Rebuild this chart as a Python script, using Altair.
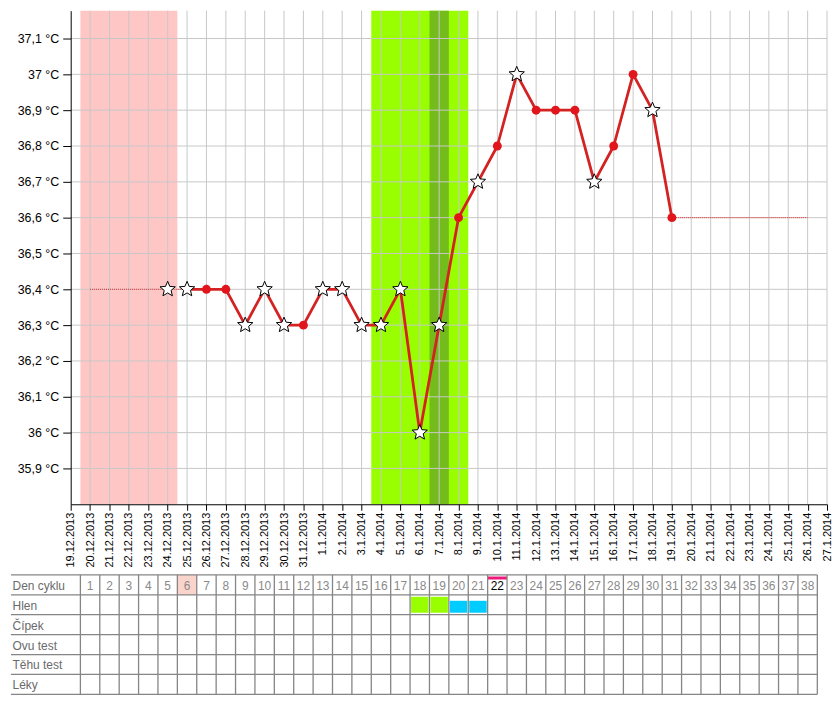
import altair as alt
import pandas as pd

# ---- data ----
DATE_LABELS = [
    "19.12.2013", "20.12.2013", "21.12.2013", "22.12.2013", "23.12.2013",
    "24.12.2013", "25.12.2013", "26.12.2013", "27.12.2013", "28.12.2013",
    "29.12.2013", "30.12.2013", "31.12.2013", "1.1.2014", "2.1.2014",
    "3.1.2014", "4.1.2014", "5.1.2014", "6.1.2014", "7.1.2014",
    "8.1.2014", "9.1.2014", "10.1.2014", "11.1.2014", "12.1.2014",
    "13.1.2014", "14.1.2014", "15.1.2014", "16.1.2014", "17.1.2014",
    "18.1.2014", "19.1.2014", "20.1.2014", "21.1.2014", "22.1.2014",
    "23.1.2014", "24.1.2014", "25.1.2014", "26.1.2014", "27.1.2014",
]
DAY_INDEX = list(range(len(DATE_LABELS)))

TEMP_TICKS = [35.9, 36.0, 36.1, 36.2, 36.3, 36.4, 36.5, 36.6, 36.7, 36.8, 36.9, 37.0, 37.1]

MEAS_DAYS = [5, 6, 7, 8, 9, 10, 11, 12, 13, 14, 15, 16, 17, 18, 19, 20,
             21, 22, 23, 24, 25, 26, 27, 28, 29, 30, 31]
MEAS_TEMPS = [36.4, 36.4, 36.4, 36.4, 36.3, 36.4, 36.3, 36.3, 36.4, 36.4, 36.3,
              36.3, 36.4, 36.0, 36.3, 36.6, 36.7, 36.8, 37.0, 36.9, 36.9, 36.9,
              36.7, 36.8, 37.0, 36.9, 36.6]
MEAS_MARK = ["star", "star", "dot", "dot", "star", "star", "star", "dot", "star",
             "star", "star", "star", "star", "star", "star", "dot", "star", "dot",
             "star", "dot", "dot", "dot", "star", "dot", "dot", "star", "dot"]
LINE_START_DAY = 6
LINE_END_DAY = 31
EXT_LEFT = [1, 6]
EXT_RIGHT = [31, 38]

PERIOD_DAYS = [1, 5]
FERTILE_DAYS = [16, 20]
OVULATION_DAY = 19

ROW_LABELS = ["Den cyklu", "Hlen", "Čípek", "Ovu test", "Těhu test", "Léky"]
CYCLE_DAYS = list(range(1, 39))
TODAY_DAY = 22
MARKED_DAY = 6
HLEN_GREEN = [18, 19]
HLEN_BLUE = [20, 21]

FONT = "Liberation Sans"
W = 760
H = 496
Y_DOMAIN = [35.8, 37.2 - 8 / 360]
STAR_PATH = ("M0,-1L0.2645,-0.3641L0.9511,-0.309L0.428,0.1391L0.5878,0.809"
             "L0,0.45L-0.5878,0.809L-0.428,0.1391L-0.9511,-0.309L-0.2645,-0.3641Z")

xs = alt.Scale(domain=[0, 39], nice=False, zero=False)
ys = alt.Scale(domain=Y_DOMAIN, nice=False, zero=False)

meas = pd.DataFrame({"d": MEAS_DAYS, "t": MEAS_TEMPS, "m": MEAS_MARK})
line_df = meas[(meas.d >= LINE_START_DAY) & (meas.d <= LINE_END_DAY)]
ext_df = pd.DataFrame({
    "d": [EXT_LEFT[0], EXT_LEFT[1], EXT_RIGHT[0], EXT_RIGHT[1]],
    "t": [MEAS_TEMPS[MEAS_DAYS.index(EXT_LEFT[1])]] * 2 + [MEAS_TEMPS[MEAS_DAYS.index(EXT_RIGHT[0])]] * 2,
    "g": ["a", "a", "b", "b"],
})

bands = pd.DataFrame({
    "x1": [PERIOD_DAYS[0] - 0.5, FERTILE_DAYS[0] - 0.5, OVULATION_DAY - 0.5],
    "x2": [PERIOD_DAYS[1] + 0.5, FERTILE_DAYS[1] + 0.5, OVULATION_DAY + 0.5],
    "c": ["#ffc6c6", "#99ff00", "#74bc1c"],
})

label_expr = "[" + ",".join("'%s'" % s for s in DATE_LABELS) + "][datum.value]"

x_axis = alt.Axis(values=DAY_INDEX, labelExpr=label_expr, labelAngle=270,
                  labelFont=FONT, labelFontSize=11, labelColor="#000",
                  tickColor="#000", domainColor="#000", tickSize=6, labelPadding=2,
                  grid=False, title=None, zindex=1, labelOverlap=False)
y_axis = alt.Axis(values=TEMP_TICKS,
                  labelExpr="replace(format(datum.value, '.1~f'), '.', ',') + ' °C'",
                  labelFont=FONT, labelFontSize=12.5, labelColor="#000",
                  tickColor="#000", domainColor="#000", tickSize=8, labelPadding=4,
                  grid=False, title=None, zindex=1)

band_layer = alt.Chart(bands).mark_rect().encode(
    x=alt.X("x1:Q", scale=xs, axis=x_axis), x2="x2:Q",
    color=alt.Color("c:N", scale=None))

vgrid = alt.Chart(pd.DataFrame({"d": DAY_INDEX[1:]})).mark_rule(
    color="#c8c8c8", strokeWidth=1).encode(x=alt.X("d:Q", scale=xs, axis=x_axis))
hgrid = alt.Chart(pd.DataFrame({"t": TEMP_TICKS})).mark_rule(
    color="#c8c8c8", strokeWidth=1).encode(y=alt.Y("t:Q", scale=ys, axis=y_axis))

ext_layer = alt.Chart(ext_df).mark_line(color="#e02020", strokeWidth=1,
                                        strokeDash=[1, 1]).encode(
    x=alt.X("d:Q", scale=xs, axis=x_axis), y=alt.Y("t:Q", scale=ys, axis=y_axis),
    detail="g:N")

line_layer = alt.Chart(line_df).mark_line(color="#d42222", strokeWidth=2.8,
                                          strokeJoin="round").encode(
    x=alt.X("d:Q", scale=xs, axis=x_axis), y=alt.Y("t:Q", scale=ys, axis=y_axis))

dots = alt.Chart(meas[meas.m == "dot"]).mark_point(
    shape="circle", filled=True, color="#e0161c", size=80, opacity=1).encode(
    x=alt.X("d:Q", scale=xs, axis=x_axis), y=alt.Y("t:Q", scale=ys, axis=y_axis))

stars = alt.Chart(meas[meas.m == "star"]).mark_point(
    shape=STAR_PATH, filled=True, fill="white", stroke="black", strokeWidth=1,
    size=260, opacity=1).encode(
    x=alt.X("d:Q", scale=xs, axis=x_axis), y=alt.Y("t:Q", scale=ys, axis=y_axis))

top = alt.layer(band_layer, vgrid, hgrid, ext_layer, line_layer, dots, stars).properties(
    width=W, height=H)

# ---- table ----
tys = alt.Scale(domain=[0, 6], reverse=True, nice=False, zero=False)
N_ROWS = len(ROW_LABELS)
LABEL_X = -3.0
LEFT_EDGE = -3.08
RIGHT_EDGE = CYCLE_DAYS[-1] + 0.5

hrules = alt.Chart(pd.DataFrame({"r": list(range(N_ROWS + 1)),
                                 "a": [LEFT_EDGE] * (N_ROWS + 1),
                                 "b": [RIGHT_EDGE] * (N_ROWS + 1)})).mark_rule(
    color="#858585", strokeWidth=1.3).encode(
    x=alt.X("a:Q", scale=xs, axis=None), x2="b:Q",
    y=alt.Y("r:Q", scale=tys, axis=None))

vrules = alt.Chart(pd.DataFrame({"c": [d - 0.5 for d in CYCLE_DAYS] + [RIGHT_EDGE],
                                 "r0": 0, "r1": N_ROWS})).mark_rule(
    color="#858585", strokeWidth=1.3).encode(
    x=alt.X("c:Q", scale=xs, axis=None), y=alt.Y("r0:Q", scale=tys, axis=None), y2="r1:Q")

marked = alt.Chart(pd.DataFrame({"a": [MARKED_DAY - 0.5], "b": [MARKED_DAY + 0.5],
                                 "r0": [0], "r1": [1]})).mark_rect(
    color="#fad3cb").encode(
    x=alt.X("a:Q", scale=xs, axis=None), x2="b:Q",
    y=alt.Y("r0:Q", scale=tys, axis=None), y2="r1:Q")

today_bar = alt.Chart(pd.DataFrame({"a": [TODAY_DAY - 0.5], "b": [TODAY_DAY + 0.5],
                                    "r0": [0.08], "r1": [0.23]})).mark_rect(
    color="#f0187a").encode(
    x=alt.X("a:Q", scale=xs, axis=None), x2="b:Q",
    y=alt.Y("r0:Q", scale=tys, axis=None), y2="r1:Q")

hlen = pd.DataFrame({
    "a": [d - 0.45 for d in HLEN_GREEN + HLEN_BLUE],
    "b": [d + 0.45 for d in HLEN_GREEN + HLEN_BLUE],
    "r0": [1.1] * len(HLEN_GREEN) + [1.3] * len(HLEN_BLUE),
    "r1": [1.9] * (len(HLEN_GREEN) + len(HLEN_BLUE)),
    "c": ["#99ff00"] * len(HLEN_GREEN) + ["#00ccff"] * len(HLEN_BLUE),
})
hlen_layer = alt.Chart(hlen).mark_rect().encode(
    x=alt.X("a:Q", scale=xs, axis=None), x2="b:Q",
    y=alt.Y("r0:Q", scale=tys, axis=None), y2="r1:Q",
    color=alt.Color("c:N", scale=None))

nums = pd.DataFrame({"d": CYCLE_DAYS, "r": 0.55,
                     "col": ["#000000" if d == TODAY_DAY else "#8a8a8a" for d in CYCLE_DAYS]})
num_layer = alt.Chart(nums).mark_text(font=FONT, fontSize=12, baseline="middle",
                                      align="center").encode(
    x=alt.X("d:Q", scale=xs, axis=None), y=alt.Y("r:Q", scale=tys, axis=None),
    text="d:N", color=alt.Color("col:N", scale=None))

rowlab = pd.DataFrame({"l": ROW_LABELS, "r": [i + 0.55 for i in range(N_ROWS)],
                       "x": LABEL_X})
rowlab_layer = alt.Chart(rowlab).mark_text(font=FONT, fontSize=12, baseline="middle",
                                           align="left", color="#6a6a6a").encode(
    x=alt.X("x:Q", scale=xs, axis=None), y=alt.Y("r:Q", scale=tys, axis=None),
    text="l:N")

bottom = alt.layer(marked, today_bar, hlen_layer, hrules, vrules, num_layer,
                   rowlab_layer).properties(width=W, height=20 * N_ROWS)

chart = alt.vconcat(top, bottom, spacing=6).properties(
    padding={"left": 2, "top": 0, "right": 0, "bottom": 0}
).configure_view(stroke=None)

chart.save("out.html", embed_options={"renderer": "svg", "actions": False})
